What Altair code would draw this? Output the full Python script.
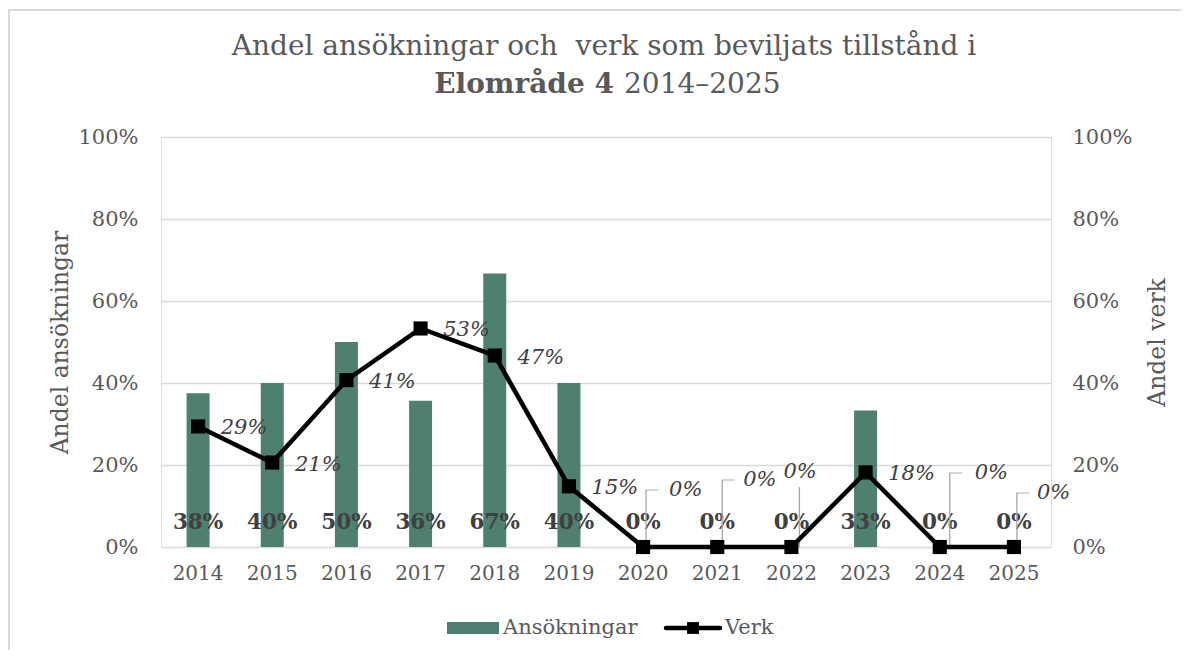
import altair as alt
import pandas as pd

# ---- data ----
years = [2014, 2015, 2016, 2017, 2018, 2019, 2020, 2021, 2022, 2023, 2024, 2025]
ansokningar = [0.375, 0.40, 0.50, 0.357, 0.667, 0.40, 0.0, 0.0, 0.0, 0.333, 0.0, 0.0]
verk = [0.294, 0.206, 0.407, 0.533, 0.467, 0.148, 0.0, 0.0, 0.0, 0.182, 0.0, 0.0]

title_line1 = "Andel ansökningar och\u00a0 verk som beviljats tillstånd i"
title_bold = "Elområde 4"
title_rest = "2014–2025"
left_title = "Andel ansökningar"
right_title = "Andel verk"
legend_labels = ["Ansökningar", "Verk"]

df = pd.DataFrame({"year": years, "ansokningar": ansokningar, "verk": verk})

# ---- styling ----
W, H = 890, 410
FONT = "DejaVu Serif"
BAR = "#4e7f6f"
TXT = "#595959"
DARK = "#404040"
GRID = "#d9d9d9"
LEADER = "#a6a6a6"
ticks = [0, 0.2, 0.4, 0.6, 0.8, 1.0]

x_enc = alt.X("year:O", scale=alt.Scale(paddingInner=0, paddingOuter=0),
              axis=alt.Axis(title=None, labelAngle=0, labelPadding=16, labelFontSize=20,
                            labelColor=TXT, labelFont=FONT, ticks=False, domain=False))

bar_axis = alt.Axis(orient="left", values=ticks, format=".0%", grid=True,
                    gridColor=GRID, gridWidth=1.5, ticks=False, domain=False,
                    labelPadding=23, labelFontSize=21, labelColor=TXT, labelFont=FONT,
                    title=left_title, titleFont=FONT, titleFontSize=23.5,
                    titleFontWeight="normal", titleColor=TXT, titleAngle=-90,
                    titleX=-101, titleY=H / 2, titleAlign="center",
                    titleBaseline="middle")
bar_scale = alt.Scale(domain=[0, 1])
y_bar = alt.Y("ansokningar:Q", scale=bar_scale, axis=bar_axis)
y_bar_base = alt.Y("base:Q", scale=bar_scale, axis=bar_axis)

y_line = alt.Y("verk:Q", scale=alt.Scale(domain=[0, 1]),
               axis=alt.Axis(orient="right", values=ticks, format=".0%", grid=False,
                             ticks=False, domain=False, labelPadding=21, labelFontSize=21,
                             labelColor=TXT, labelFont=FONT,
                             title=right_title, titleFont=FONT, titleFontSize=23.5,
                             titleFontWeight="normal", titleColor=TXT, titleAngle=-90,
                             titleX=106, titleY=H / 2, titleAlign="center",
                             titleBaseline="middle"))

base = alt.Chart(df)

bars = base.mark_bar(size=23, color=BAR).encode(x=x_enc, y=y_bar)
bar_labels = base.transform_calculate(base="0").mark_text(
    font=FONT, fontSize=21.5, fontWeight="bold", color=DARK, baseline="middle",
    dy=-24).encode(x=x_enc, y=y_bar_base, text=alt.Text("ansokningar:Q", format=".0%"))
bar_group = alt.layer(bars, bar_labels)

line = base.mark_line(color="black", strokeWidth=4.5).encode(x=x_enc, y=y_line)
points = base.mark_point(shape="square", filled=True, color="black", size=200,
                         opacity=1).encode(x=x_enc, y=y_line)
line_labels = base.transform_filter("datum.verk > 0").mark_text(
    font=FONT, fontSize=21, fontStyle="italic", color=DARK, baseline="middle",
    dx=46, dy=2).encode(x=x_enc, y=y_line, text=alt.Text("verk:Q", format=".0%"))

# placement of the zero labels with leader lines:
# (year, text dx, text lift px, leader x offset, leader lift px, horizontal tick)
zero_place = [
    (2020, 26, 57, 3, 57, True),
    (2021, 26, 67, 5, 67, True),
    (2022, -8, 75, 8, 60, False),
    (2024, 35, 74, 10, 74, True),
    (2025, 23, 54, 3, 54, True),
]
zero_layers = []
for yr, tdx, lift, lx, llift, has_tick in zero_place:
    sub = base.transform_filter(f"datum.year == {yr}")
    zero_layers.append(sub.mark_rule(color=LEADER, strokeWidth=1.3, xOffset=lx).encode(
        x=x_enc, y=y_line, y2=alt.value(H - llift)))
    if has_tick:
        zero_layers.append(sub.mark_tick(color=LEADER, thickness=1.3, size=13,
                                         orient="horizontal", xOffset=lx + 6,
                                         yOffset=-llift).encode(x=x_enc, y=y_line))
    zero_layers.append(sub.mark_text(font=FONT, fontSize=21, fontStyle="italic", color=DARK,
                                     align="left", baseline="middle", dx=tdx,
                                     dy=-lift).encode(
        x=x_enc, y=y_line, text=alt.Text("verk:Q", format=".0%")))

line_group = alt.layer(*zero_layers, line, points, line_labels)

main = alt.layer(bar_group, line_group).resolve_scale(y="independent")

# ---- decorations: title, legend, frame ----
one = alt.Chart(pd.DataFrame({"k": [0]}))
t1 = one.mark_text(text=title_line1, font=FONT, fontSize=28, color=TXT, align="center",
                   baseline="middle").encode(x=alt.value(443), y=alt.value(-90))
t2a = one.mark_text(text=title_bold, font=FONT, fontSize=28, fontWeight="bold", color=TXT,
                    align="right", baseline="middle").encode(x=alt.value(453), y=alt.value(-52))
t2b = one.mark_text(text=title_rest, font=FONT, fontSize=28, color=TXT, align="left",
                    baseline="middle").encode(x=alt.value(463), y=alt.value(-52))

lg_rect = one.mark_rect(color=BAR).encode(x=alt.value(286), x2=alt.value(338),
                                          y=alt.value(485), y2=alt.value(497))
lg_t1 = one.mark_text(text=legend_labels[0], font=FONT, fontSize=21, color=TXT, align="left",
                      baseline="middle").encode(x=alt.value(342), y=alt.value(491))
lg_line = one.mark_rule(color="black", strokeWidth=4.5, strokeCap="round").encode(
    x=alt.value(505), x2=alt.value(559), y=alt.value(491))
lg_pt = one.mark_point(shape="square", filled=True, color="black", size=140,
                       opacity=1).encode(x=alt.value(532), y=alt.value(491))
lg_t2 = one.mark_text(text=legend_labels[1], font=FONT, fontSize=21, color=TXT, align="left",
                      baseline="middle").encode(x=alt.value(564), y=alt.value(491))

frame = one.mark_rect(fill=None, stroke=GRID, strokeWidth=2).encode(
    x=alt.value(-152), x2=alt.value(1200), y=alt.value(-127), y2=alt.value(700))

chart = alt.layer(frame, main, t1, t2a, t2b, lg_rect, lg_t1, lg_line, lg_pt, lg_t2).properties(
    width=W, height=H,
    padding={"left": 153, "top": 129, "right": 130, "bottom": 103},
    autosize=alt.AutoSizeParams(type="none"),
).configure_view(stroke=None).configure(background="white")

chart.save("out.html", embed_options={"renderer": "svg", "actions": False})
